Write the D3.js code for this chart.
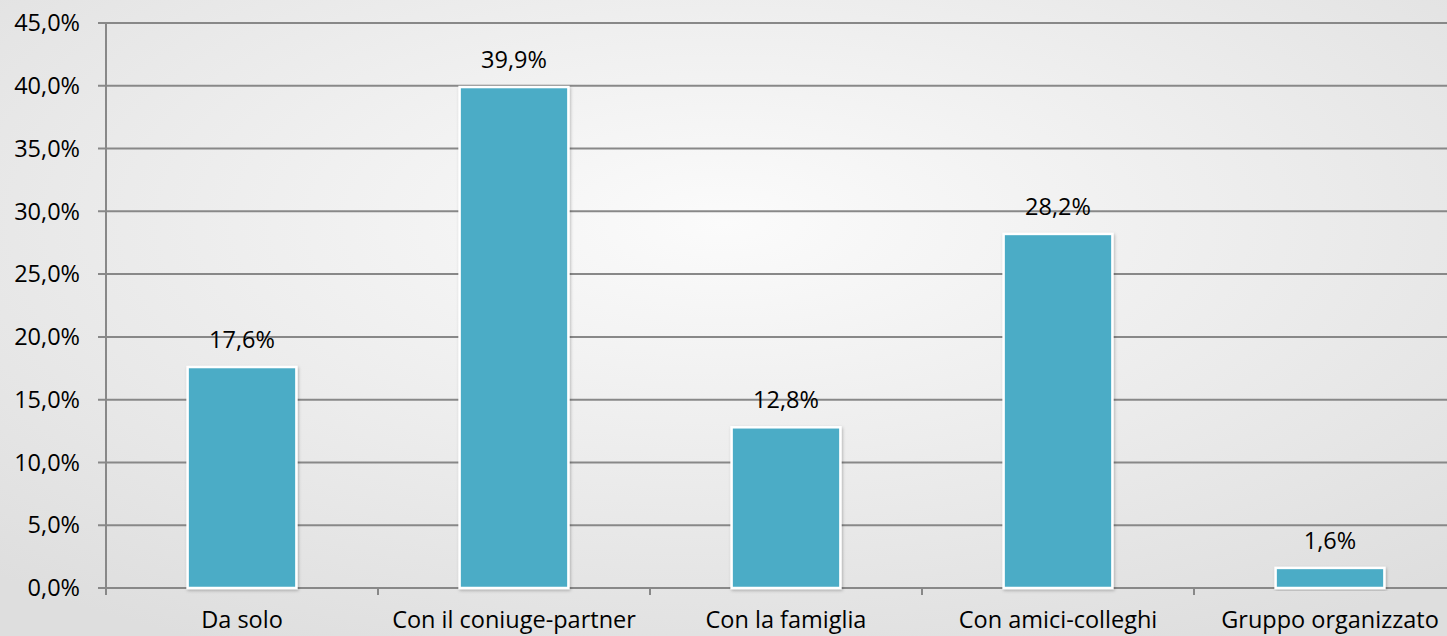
<!DOCTYPE html>
<html><head><meta charset="utf-8">
<script src="https://cdn.jsdelivr.net/npm/d3@7"></script>
<style>html,body{margin:0;padding:0;overflow:hidden;}svg{display:block;}</style>
</head><body>
<script>
const categories = ["Da solo","Con il coniuge-partner","Con la famiglia","Con amici-colleghi","Gruppo organizzato"];
const values = [17.6, 39.9, 12.8, 28.2, 1.6];
const yTicks = [0,5,10,15,20,25,30,35,40,45];

const W = 1447, H = 636;
const svg = d3.select("body").append("svg").attr("width", W).attr("height", H);
const defs = svg.append("defs");
const rg = defs.append("radialGradient").attr("id","bg").attr("cx","50%").attr("cy","35%").attr("r","75%");
rg.append("stop").attr("offset","0%").attr("stop-color","#fbfbfb");
rg.append("stop").attr("offset","100%").attr("stop-color","#dedede");
const f = defs.append("filter").attr("id","sh").attr("x","-10%").attr("y","-10%").attr("width","120%").attr("height","120%");
f.append("feDropShadow").attr("dx",1).attr("dy",1.5).attr("stdDeviation",1.5).attr("flood-color","#000").attr("flood-opacity",0.25);

svg.append("rect").attr("width",W).attr("height",H).attr("fill","url(#bg)");

const x = d3.scaleBand().domain(categories).range([106, 1466]).paddingInner(0.6).paddingOuter(0.3);
const xb = d3.scaleBand().domain(categories).range([106, 1466]);
const y = d3.scaleLinear().domain([0,45]).range([588, 23]);
const font = "'Open Sans', sans-serif";
const fs = 23.5;

svg.append("g").selectAll("line").data(yTicks).join("line")
  .attr("x1", 98).attr("x2", W).attr("y1", d=>y(d)).attr("y2", d=>y(d))
  .attr("stroke","#888").attr("stroke-width",2);
svg.append("g").selectAll("text").data(yTicks).join("text")
  .attr("x", 80).attr("y", d=>y(d)).attr("dy","0.35em").attr("text-anchor","end")
  .attr("font-family",font).attr("font-size",fs).attr("fill","#000")
  .text(d=>d.toFixed(1).replace(".",",")+"%");
svg.append("line").attr("x1",106).attr("x2",106).attr("y1",y(45)).attr("y2",y(0)+7)
  .attr("stroke","#888").attr("stroke-width",2);
svg.append("g").selectAll("line").data(categories).join("line")
  .attr("x1", d=>xb(d)).attr("x2", d=>xb(d)).attr("y1", y(0)).attr("y2", y(0)+7)
  .attr("stroke","#888").attr("stroke-width",2);

svg.append("g").selectAll("rect").data(values).join("rect")
  .attr("x",(d,i)=>x(categories[i])).attr("width",x.bandwidth())
  .attr("y",d=>y(d)).attr("height",d=>y(0)-y(d))
  .attr("fill","#4bacc6").attr("stroke","#fff").attr("stroke-width",2.5)
  .attr("filter","url(#sh)");

svg.append("g").selectAll("text").data(values).join("text")
  .attr("x",(d,i)=>x(categories[i])+x.bandwidth()/2).attr("y",d=>y(d)-19)
  .attr("text-anchor","middle").attr("font-family",font).attr("font-size",fs).attr("fill","#000")
  .text(d=>d.toFixed(1).replace(".",",")+"%");

svg.append("g").selectAll("text").data(categories).join("text")
  .attr("x",d=>xb(d)+xb.bandwidth()/2).attr("y",628)
  .attr("text-anchor","middle").attr("font-family",font).attr("font-size",fs).attr("fill","#000")
  .text(d=>d);
</script>
</body></html>
